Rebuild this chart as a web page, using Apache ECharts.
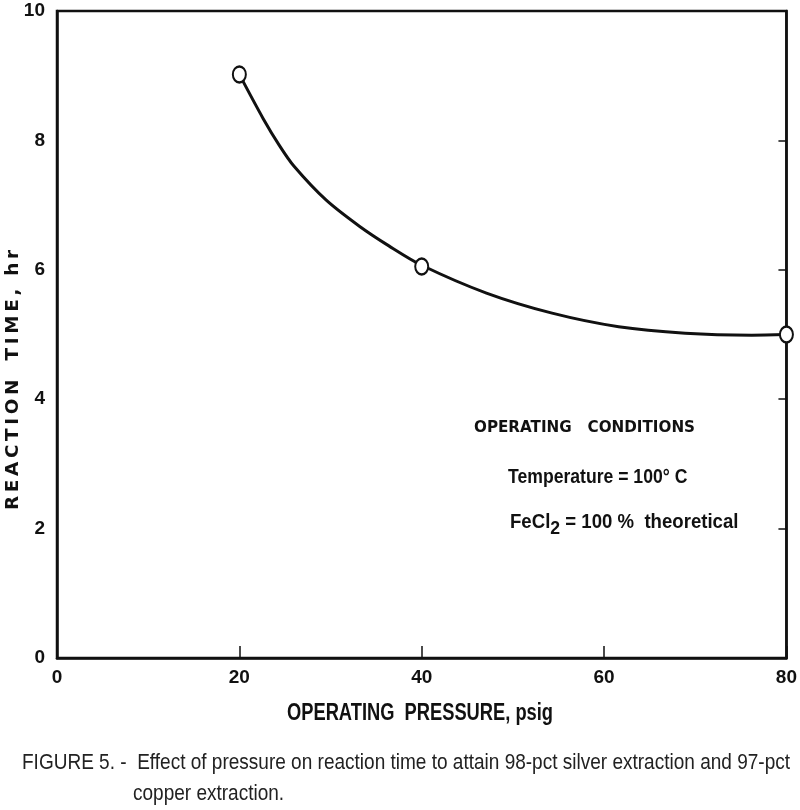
<!DOCTYPE html>
<html><head><meta charset="utf-8">
<script src="https://cdn.jsdelivr.net/npm/echarts@6/dist/echarts.min.js"></script>
<style>html,body{margin:0;padding:0;background:#fff}#c{width:800px;height:810px}</style>
</head><body><div id="c"></div>
<script>
// Measured points (pressure psig, reaction time hr)
const pointX = [20, 40, 80];
const pointY = [9.02, 6.05, 5.0];
// Hand-drawn fitted curve
const curveX = [20, 22.6, 24.4, 26.0, 29.5, 33.2, 36.4, 40, 47.1, 54.3, 61.6, 68.9, 76.2, 80];
const curveY = [9.02, 8.34, 7.92, 7.60, 7.08, 6.67, 6.37, 6.07, 5.64, 5.33, 5.12, 5.02, 4.99, 5.0];
const xTicks = [0, 20, 40, 60, 80];
const yTicks = [0, 2, 4, 6, 8, 10];
const captionLine1 = 'FIGURE 5. -  Effect of pressure on reaction time to attain 98-pct silver extraction and 97-pct';
const captionLine2 = 'copper extraction.';

const cv = document.createElement('canvas').getContext('2d');
function fitScale(text, font, width){ cv.font = font; return width / cv.measureText(text).width; }
function spaced(s){ return s.split('').join('\u2009'); }

const capFont = '22px "Liberation Sans"';
const capScale = fitScale(captionLine1, capFont, 768);
const xtFont = 'bold 23px "Liberation Sans"';
const xtText = 'OPERATING  PRESSURE, psig';
const xtScale = fitScale(xtText, xtFont, 266);
const ytFont = 'bold 17px "DejaVu Sans"';
const ytText = spaced('REACTION') + '   ' + spaced('TIME,') + '  ' + spaced('hr');
const ytScale = fitScale(ytText, ytFont, 260);
const ocFont = 'bold 16px "DejaVu Sans"';
const ocText = 'OPERATING   CONDITIONS';
const ocScale = fitScale(ocText, ocFont, 221);

const chart = echarts.init(document.getElementById('c'));
const lbl = {color:'#111', fontFamily:'Liberation Sans', fontWeight:'bold', fontSize:19};
chart.setOption({
  animation:false,
  backgroundColor:'#fff',
  grid:{left:57, right:12, top:11, bottom:152, show:true, borderColor:'#111', borderWidth:2.5},
  xAxis:[{type:'value', min:xTicks[0], max:xTicks[xTicks.length-1], interval:20,
    axisLine:{lineStyle:{color:'#111', width:2.5}},
    axisTick:{inside:true, length:12, lineStyle:{color:'#111', width:1.5}},
    splitLine:{show:false},
    axisLabel:Object.assign({margin:10}, lbl)}],
  yAxis:[{type:'value', min:yTicks[0], max:yTicks[yTicks.length-1], interval:2,
    axisLine:{lineStyle:{color:'#111', width:2.5}},
    axisTick:{show:false},
    splitLine:{show:false},
    axisLabel:Object.assign({margin:12}, lbl)},
    {type:'value', position:'right', min:0, max:10, interval:2,
    axisLine:{show:true, lineStyle:{color:'#111', width:2.5}},
    axisTick:{inside:true, length:8, lineStyle:{color:'#111', width:1.5}},
    axisLabel:{show:false}, splitLine:{show:false}}],
  series:[
    {type:'line', data:curveX.map((x,i)=>[x,curveY[i]]), smooth:0.3, symbol:'none',
     lineStyle:{color:'#111', width:3}, z:2},
    {type:'scatter', data:pointX.map((x,i)=>[x,pointY[i]]), symbol:'circle', symbolSize:[13,16],
     itemStyle:{color:'#fff', borderColor:'#111', borderWidth:2.2, opacity:1}, z:5}
  ],
  graphic:[
    {type:'text', x:287, y:702, scaleX:xtScale, style:{text:xtText, fill:'#111', font:xtFont}},
    {type:'text', x:14, y:380, rotation:Math.PI/2, scaleX:ytScale, style:{text:ytText, fill:'#111',
      font:ytFont, align:'center', verticalAlign:'middle'}},
    {type:'text', x:474, y:420, scaleX:ocScale, style:{text:ocText, fill:'#111', font:ocFont}},
    {type:'text', x:508, y:467, scaleX:0.88, style:{text:'Temperature = 100° C', fill:'#111',
      font:'bold 20px "Liberation Sans"'}},
    {type:'text', x:510, y:507, scaleX:0.93, style:{text:'{a|FeCl}{s|2}{a| = 100 %  theoretical}',
      rich:{a:{fill:'#111', font:'bold 20px "Liberation Sans"'},
            s:{fill:'#111', font:'bold 19px "Liberation Sans"', padding:[12,0,0,0]}}}},
    {type:'text', x:22, y:752, scaleX:capScale, style:{text:captionLine1, fill:'#222', font:capFont}},
    {type:'text', x:133, y:783, scaleX:capScale, style:{text:captionLine2, fill:'#222', font:capFont}}
  ]
});
</script></body></html>
